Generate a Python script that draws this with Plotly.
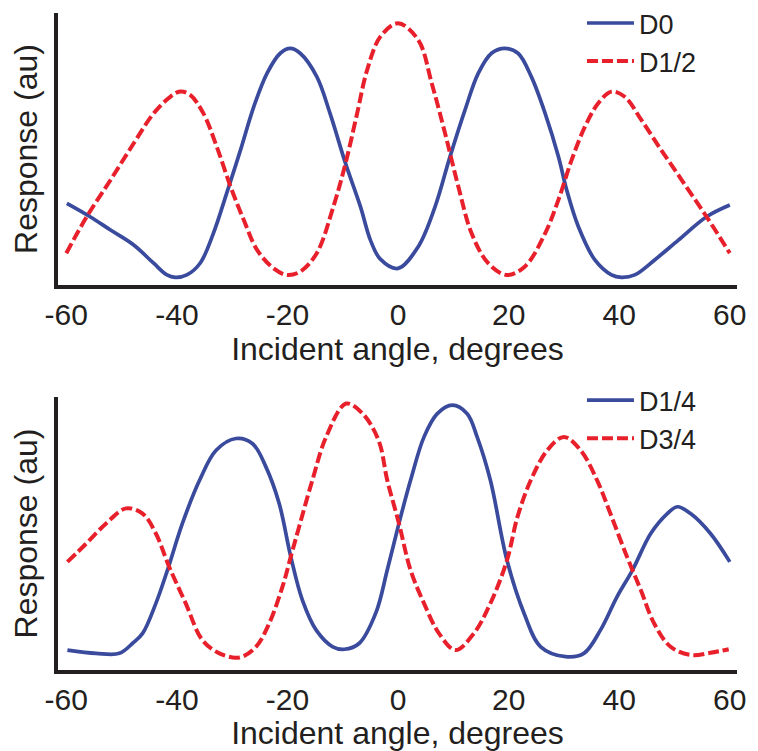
import plotly.graph_objects as go

# ---- top panel data ----
d0_angle = [-59.9, -55.7, -52.0, -47.8, -44.2, -41.8, -40.3, -38.2, -35.8, -33.4, -31.0, -28.5,
            -26.1, -23.7, -21.3, -19.5, -17.7, -14.7, -12.3, -9.5, -6.8, -5.0, -3.2, 0.0,
            3.65, 6.7, 9.4, 12.1, 14.5, 16.9, 19.3, 21.7, 24.1, 26.6, 29.0, 30.5, 32.6, 35.6,
            38.6, 40.4, 42.8, 46.4, 50.7, 55.8, 60.0]
d0 = [0.300, 0.251, 0.202, 0.147, 0.080, 0.037, 0.028, 0.037, 0.080, 0.190, 0.337, 0.496,
      0.655, 0.778, 0.852, 0.870, 0.852, 0.766, 0.631, 0.447, 0.288, 0.165, 0.095, 0.061,
      0.141, 0.288, 0.472, 0.643, 0.778, 0.852, 0.870, 0.852, 0.766, 0.631, 0.472, 0.349, 0.215, 0.092,
      0.037, 0.028, 0.037, 0.092, 0.165, 0.251, 0.294]

d12_angle = [-60.0, -56.3, -52.0, -47.8, -44.2, -41.2, -39.4, -37.6, -35.2, -32.8, -30.3, -27.9,
             -25.5, -22.5, -20.1, -17.7, -14.7, -11.7, -9.5, -7.4, -5.6, -3.2, 0.0,
             3.65, 6.1, 8.5, 10.9, 13.3, 16.3, 19.6, 22.9, 26.6, 29.0, 31.4, 33.8, 36.2,
             38.6, 41.0, 44.0, 47.6, 51.3, 55.8, 60.0]
d12 = [0.117, 0.251, 0.386, 0.521, 0.631, 0.692, 0.711, 0.699, 0.631, 0.509, 0.362, 0.239,
       0.129, 0.061, 0.037, 0.049, 0.117, 0.288, 0.447, 0.631, 0.790, 0.913, 0.962,
       0.901, 0.741, 0.558, 0.362, 0.190, 0.080, 0.037, 0.067, 0.190, 0.313, 0.460, 0.582, 0.668,
       0.711, 0.692, 0.607, 0.496, 0.386, 0.251, 0.117]

# ---- bottom panel data ----
d14_angle = [-59.8, -54.6, -50.4, -48.0, -46.2, -43.8, -41.7, -39.0, -35.9, -32.9, -29.3, -26.3,
             -23.9, -21.5, -19.4, -17.3, -14.8, -11.8, -9.7, -7.0, -4.0, -1.95, 0.16, 2.26,
             4.7, 7.1, 9.8, 12.5, 14.3, 16.7, 19.7, 22.8, 25.8, 30.3, 33.6, 36.6, 39.6,
             42.4, 45.7, 48.7, 50.5, 52.9, 56.5, 60.0]
d14 = [0.073, 0.061, 0.061, 0.098, 0.134, 0.244, 0.366, 0.537, 0.695, 0.805, 0.848, 0.829,
       0.744, 0.610, 0.415, 0.256, 0.146, 0.085, 0.076, 0.098, 0.210, 0.366, 0.537, 0.695,
       0.854, 0.939, 0.970, 0.939, 0.854, 0.695, 0.402, 0.207, 0.085, 0.049, 0.061, 0.146, 0.268,
       0.366, 0.500, 0.573, 0.598, 0.573, 0.500, 0.396]

d34_angle = [-59.8, -56.4, -52.8, -49.2, -46.2, -43.8, -41.4, -38.4, -35.4, -32.3, -28.7, -25.7,
             -23.3, -20.9, -19.4, -17.9, -15.5, -13.0, -9.4, -6.4, -3.5, -1.95, 0.16, 2.26,
             4.7, 7.4, 10.4, 13.7, 16.7, 19.7, 21.6, 24.0, 27.0, 30.0, 33.0, 36.0, 38.4,
             41.4, 43.9, 46.3, 49.3, 52.9, 56.5, 59.8]
d34 = [0.396, 0.463, 0.537, 0.592, 0.573, 0.500, 0.378, 0.244, 0.110, 0.061, 0.046, 0.085,
       0.171, 0.305, 0.415, 0.524, 0.695, 0.854, 0.976, 0.939, 0.840, 0.695, 0.537, 0.366,
       0.244, 0.134, 0.073, 0.134, 0.244, 0.402, 0.561, 0.695, 0.805, 0.854, 0.805, 0.695, 0.573,
       0.415, 0.293, 0.171, 0.085, 0.055, 0.063, 0.076]

x_ticks = [-60, -40, -20, 0, 20, 40, 60]
x_tick_text = ["-60", "-40", "-20", "0", "20", "40", "60"]

BLUE = "#3a4a9c"
RED = "#e8202b"
INK = "#231f20"
FONT = "Liberation Sans, Arial, sans-serif"

fig = go.Figure()
fig.add_trace(go.Scatter(x=d0_angle, y=d0, name="D0", mode="lines",
                         line=dict(color=BLUE, width=3.7, shape="spline", smoothing=1.0),
                         xaxis="x", yaxis="y", legend="legend"))
fig.add_trace(go.Scatter(x=d12_angle, y=d12, name="D1/2", mode="lines",
                         line=dict(color=RED, width=4, dash="11px,4px", shape="spline", smoothing=1.0),
                         xaxis="x", yaxis="y", legend="legend"))
fig.add_trace(go.Scatter(x=d14_angle, y=d14, name="D1/4", mode="lines",
                         line=dict(color=BLUE, width=3.7, shape="spline", smoothing=1.0),
                         xaxis="x2", yaxis="y2", legend="legend2"))
fig.add_trace(go.Scatter(x=d34_angle, y=d34, name="D3/4", mode="lines",
                         line=dict(color=RED, width=4, dash="11px,4px", shape="spline", smoothing=1.0),
                         xaxis="x2", yaxis="y2", legend="legend2"))

xaxis_common = dict(range=[-61.5, 61.3], tickvals=x_ticks, ticktext=x_tick_text,
                    showgrid=False, zeroline=False, showline=True, linecolor=INK,
                    linewidth=4, ticks="",
                    tickfont=dict(size=30, color=INK, family=FONT),
                    title=dict(text="Incident angle, degrees", standoff=4,
                               font=dict(size=32, color=INK, family=FONT)))
yaxis_common = dict(range=[0, 1], showgrid=False, zeroline=False, showline=True,
                    linecolor=INK, linewidth=4, ticks="", showticklabels=False,
                    title=dict(text="Response (au)", standoff=13,
                               font=dict(size=32, color=INK, family=FONT)))

legend_common = dict(font=dict(size=27, color=INK, family=FONT), bgcolor="rgba(0,0,0,0)",
                     xref="container", yref="paper", itemwidth=47,
                     xanchor="left", yanchor="top", tracegroupgap=0)

# the page body adds an 8px offset, so the figure is 8px smaller than the window
fig.update_layout(
    width=750, height=743,
    margin=dict(l=50, r=21, t=5, b=81, autoexpand=False),
    paper_bgcolor="white", plot_bgcolor="white",
    font=dict(family=FONT, color=INK),
    showlegend=True,
    xaxis=dict(domain=[0, 1], anchor="y", **xaxis_common),
    yaxis=dict(domain=[0.586, 1], anchor="x", **yaxis_common),
    xaxis2=dict(domain=[0, 1], anchor="y2", **xaxis_common),
    yaxis2=dict(domain=[0, 0.4155], anchor="x2", **yaxis_common),
    legend=dict(x=0.7653, y=1.0214, **legend_common),
    legend2=dict(x=0.7653, y=0.4475, **legend_common),
)

fig.write_html("out.html")
